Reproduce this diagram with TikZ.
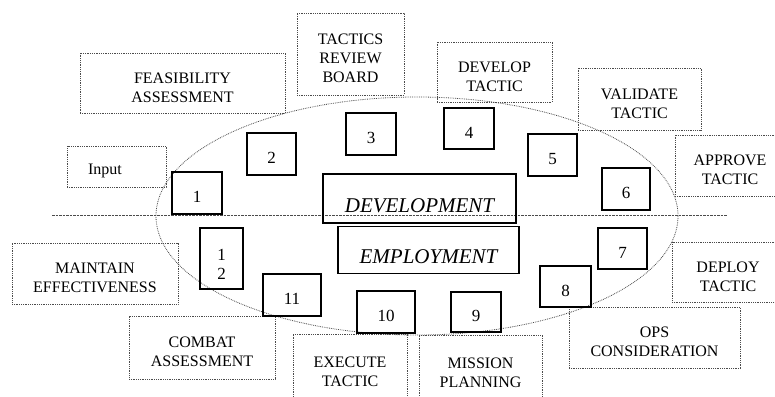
\documentclass[tikz,border=0pt]{standalone}
\usepackage{fontspec}
\setmainfont{Liberation Serif}
\usetikzlibrary{shapes.geometric}
\definecolor{Dotline}{RGB}{75,75,75}

\begin{document}
\begin{tikzpicture}[x=1pt, y=-1pt,
        task/.style={draw=Dotline, densely dotted, line width=0.8pt, align=center, inner sep=0pt, text height=38.5pt, text depth=0pt, font=\fontsize{16}{19}\selectfont},
        stepno/.style={draw=black, line width=1.3pt, inner sep=0pt, minimum width=50pt, minimum height=42pt, text height=19pt, text depth=0pt, font=\fontsize{17}{19}\selectfont},
        phase/.style={draw=black, line width=1.3pt, inner sep=0pt, text depth=0pt, font=\fontsize{21}{25}\selectfont\itshape}
    ]
    \useasboundingbox (0,0) rectangle (775,396);
    \clip (0,0) rectangle (775,396);

    % the cycle and the divider
    \node[draw=Dotline, densely dotted, line width=0.8pt, ellipse, inner sep=0pt, minimum width=522pt, minimum height=238pt] (ring) at (417,216) {};
    \coordinate (divL) at (52,215);
    \coordinate (divR) at (727,215);
    \draw[Dotline, line width=0.8pt, dash pattern=on 2.5pt off 1pt] (divL) -- (divR);

    % phases
    \node[phase, minimum width=193pt, minimum height=49pt, text height=27pt] (dev) at (419.5,198.5) {DEVELOPMENT};
    \node[phase, minimum width=181pt, minimum height=47pt, text height=26pt] (emp) at (428.5,250) {EMPLOYMENT};

    % activities
    \node[task, minimum width=99pt, minimum height=41pt, text width=57pt, align=left, text height=16.5pt] (input) at (116.5,166.5) {Input};
    \node[task, minimum width=205pt, minimum height=60pt] (feas) at (182.5,83) {FEASIBILITY\\ASSESSMENT};
    \node[task, minimum width=107pt, minimum height=82pt, text height=56.5pt] (board) at (350.5,54) {TACTICS\\REVIEW\\BOARD};
    \node[task, minimum width=115pt, minimum height=60pt] (develop) at (494.5,72) {DEVELOP\\TACTIC};
    \node[task, minimum width=123pt, minimum height=62pt] (validate) at (639.5,99) {VALIDATE\\TACTIC};
    \node[task, minimum width=110pt, minimum height=61pt] (approve) at (730,165.5) {APPROVE\\TACTIC};
    \node[task, minimum width=112pt, minimum height=60pt] (deploy) at (728,272) {DEPLOY\\TACTIC};
    \node[task, minimum width=171pt, minimum height=61pt] (ops) at (654.5,337.5) {OPS\\CONSIDERATION};
    \node[task, minimum width=123pt, minimum height=70pt, text height=34pt] (mission) at (480.5,370) {MISSION\\PLANNING};
    \node[task, minimum width=114pt, minimum height=70pt, text height=34pt] (execute) at (350,369) {EXECUTE\\TACTIC};
    \node[task, minimum width=146pt, minimum height=63pt] (combat) at (202,347.5) {COMBAT\\ASSESSMENT};
    \node[task, minimum width=166pt, minimum height=61pt] (maintain) at (95,273.5) {MAINTAIN\\EFFECTIVENESS};

    % numbered steps
    \node[stepno] (n1) at (197,193) {1};
    \node[stepno, minimum width=49pt] (n2) at (271.5,154) {2};
    \node[stepno] (n3) at (371,134) {3};
    \node[stepno, minimum height=41pt] (n4) at (469,128.5) {4};
    \node[stepno, minimum width=49pt] (n5) at (552.5,155) {5};
    \node[stepno, minimum width=48pt] (n6) at (626,189) {6};
    \node[stepno, minimum width=49pt, minimum height=41pt] (n7) at (622.5,248.5) {7};
    \node[stepno, minimum width=51pt, minimum height=41pt] (n8) at (565.5,286.5) {8};
    \node[stepno, minimum height=40pt] (n9) at (476,312) {9};
    \node[stepno, minimum width=58pt] (n10) at (386,312) {10};
    \node[stepno, minimum width=58pt] (n11) at (292,295) {11};
    \node[stepno, align=center, minimum width=43pt, minimum height=61pt, text height=42pt] (n12) at (221.5,258.5) {1\\2};
\end{tikzpicture}
\end{document}
